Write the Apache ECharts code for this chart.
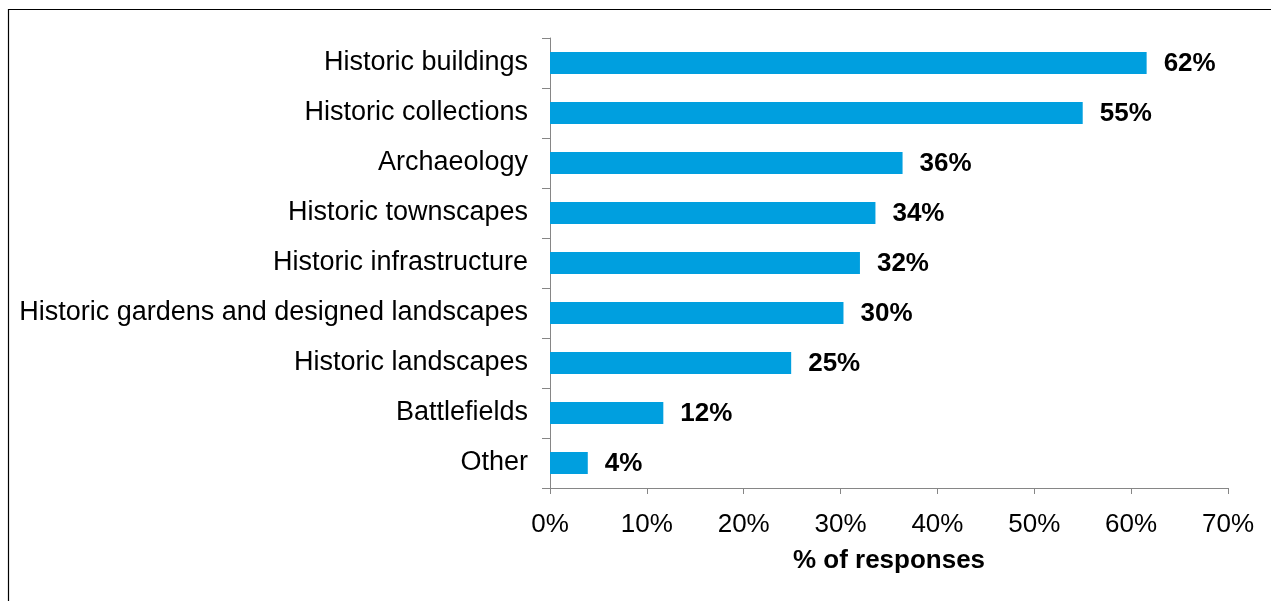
<!DOCTYPE html>
<html>
<head>
<meta charset="utf-8">
<script src="https://cdn.jsdelivr.net/npm/echarts@6/dist/echarts.min.js"></script>
<style>
html,body{margin:0;padding:0;background:#fff;}
#chart{width:1271px;height:601px;}
</style>
</head>
<body>
<div id="chart"></div>
<script>
var categories = [
  "Historic buildings",
  "Historic collections",
  "Archaeology",
  "Historic townscapes",
  "Historic infrastructure",
  "Historic gardens and designed landscapes",
  "Historic landscapes",
  "Battlefields",
  "Other"
];
var values = [61.6, 55.0, 36.4, 33.6, 32.0, 30.3, 24.9, 11.7, 3.9];
var valueLabels = ["62%", "55%", "36%", "34%", "32%", "30%", "25%", "12%", "4%"];
var xTicks = [0, 10, 20, 30, 40, 50, 60, 70];

var FONT = '"Liberation Sans", Arial, sans-serif';
var chart = echarts.init(document.getElementById('chart'), null, {renderer: 'canvas'});
chart.setOption({
  animation: false,
  backgroundColor: '#ffffff',
  graphic: [{
    type: 'rect',
    shape: {x: 8.5, y: 9.5, width: 1400, height: 800},
    style: {fill: 'none', stroke: '#000', lineWidth: 1.2},
    silent: true
  }],
  grid: {left: 550, right: 43, top: 38, bottom: 113, containLabel: false},
  xAxis: {
    type: 'value',
    min: xTicks[0],
    max: xTicks[xTicks.length - 1],
    interval: 10,
    name: '% of responses',
    nameLocation: 'middle',
    nameGap: 60,
    nameTextStyle: {fontFamily: FONT, fontSize: 26, fontWeight: 'bold', color: '#000'},
    axisLine: {show: true, lineStyle: {color: '#868686', width: 1}},
    axisTick: {show: true, length: 6, lineStyle: {color: '#868686'}},
    splitLine: {show: false},
    axisLabel: {
      margin: 24,
      fontFamily: FONT, fontSize: 26, color: '#000',
      formatter: function (v) { return v + '%'; }
    }
  },
  yAxis: {
    type: 'category',
    data: categories,
    inverse: true,
    axisLine: {show: true, lineStyle: {color: '#868686', width: 1}},
    axisTick: {show: true, length: 8, alignWithLabel: false, lineStyle: {color: '#868686'}},
    axisLabel: {margin: 22, fontFamily: FONT, fontSize: 27, color: '#000', padding: [4, 0, 0, 0]},
    splitLine: {show: false}
  },
  series: [{
    type: 'bar',
    data: values,
    barWidth: 22,
    itemStyle: {color: '#009fdf'},
    label: {
      show: true,
      position: 'right',
      distance: 17,
      fontFamily: FONT,
      fontSize: 26,
      fontWeight: 'bold',
      color: '#000',
      offset: [0, 1],
      formatter: function (p) { return valueLabels[p.dataIndex]; }
    }
  }]
});
</script>
</body>
</html>
